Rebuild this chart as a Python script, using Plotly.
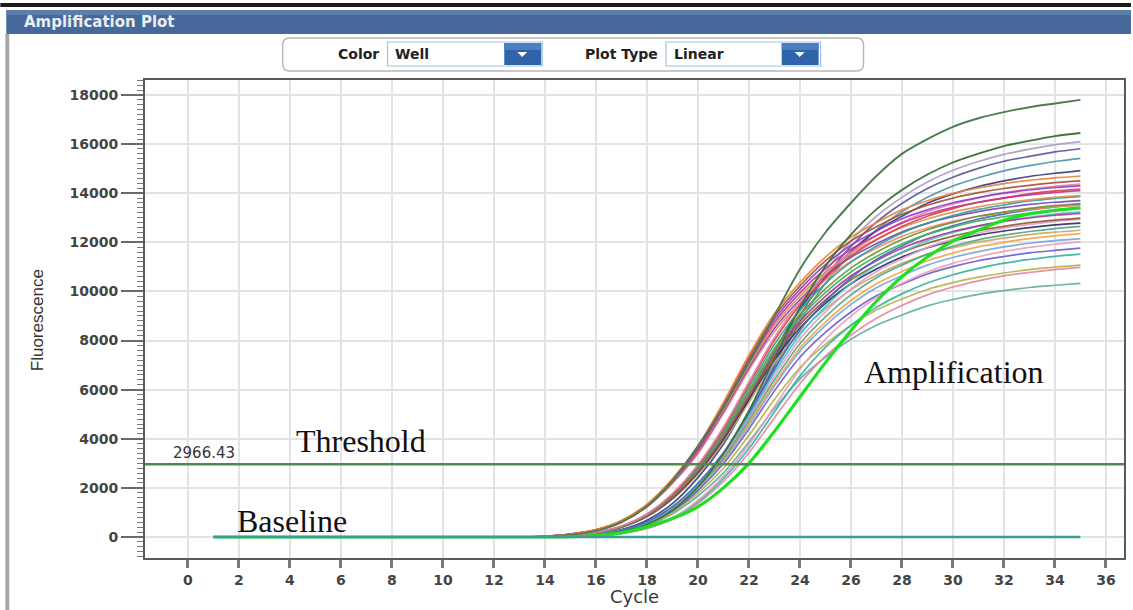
import plotly.graph_objects as go

# ---- data -----------------------------------------------------------------
cycles = list(range(1, 36))
flat_start = [0] * 13          # cycles 1-13: signal still on the baseline

# fluorescence for cycles 14..35, one list per well
well_a1 = [20, 80, 250, 600, 1250, 2300, 3700, 5300, 7100, 9000, 10900, 12400, 13600, 14700, 15600, 16200, 16700, 17050, 17300, 17500, 17650, 17800]
well_a2 = [0, 20, 70, 220, 520, 1090, 2040, 3390, 5140, 7260, 9350, 11020, 12310, 13340, 14130, 14760, 15250, 15610, 15920, 16130, 16320, 16450]
well_a3 = [0, 20, 70, 210, 510, 1060, 2000, 3320, 5040, 7110, 9160, 10790, 12050, 13060, 13830, 14450, 14930, 15290, 15580, 15790, 15970, 16100]
well_a4 = [0, 20, 60, 210, 500, 1040, 1960, 3260, 4940, 6980, 8990, 10590, 11830, 12820, 13580, 14190, 14650, 15010, 15300, 15500, 15680, 15810]
well_a5 = [0, 20, 60, 200, 490, 1020, 1910, 3180, 4820, 6810, 8760, 10330, 11530, 12500, 13240, 13830, 14290, 14630, 14910, 15120, 15290, 15420]
well_a6 = [0, 30, 120, 300, 680, 1360, 2420, 3780, 5590, 7550, 9290, 10570, 11630, 12460, 13060, 13590, 13970, 14270, 14500, 14680, 14810, 14920]
well_a7 = [30, 120, 300, 670, 1330, 2370, 3700, 5480, 7400, 9100, 10360, 11400, 12210, 12800, 13320, 13690, 13990, 14210, 14390, 14520, 14620, 14700]
well_a8 = [30, 120, 290, 660, 1310, 2340, 3650, 5400, 7300, 8980, 10220, 11240, 12050, 12630, 13140, 13510, 13800, 14020, 14190, 14320, 14430, 14500]
well_a9 = [30, 120, 290, 650, 1300, 2300, 3600, 5330, 7200, 8860, 10080, 11090, 11880, 12460, 12960, 13320, 13610, 13820, 14000, 14130, 14230, 14300]
well_a10 = [30, 110, 280, 640, 1280, 2270, 3550, 5250, 7100, 8730, 9940, 10930, 11720, 12280, 12780, 13140, 13420, 13630, 13800, 13930, 14030, 14100]
well_a11 = [10, 60, 190, 450, 940, 1770, 2940, 4470, 6310, 8120, 9570, 10690, 11590, 12270, 12820, 13240, 13560, 13820, 14010, 14170, 14280, 14370]
well_a12 = [10, 60, 190, 440, 930, 1740, 2900, 4400, 6220, 8010, 9440, 10540, 11430, 12100, 12640, 13060, 13370, 13630, 13810, 13970, 14090, 14170]
well_b1 = [30, 110, 280, 630, 1260, 2240, 3500, 5180, 7000, 8610, 9800, 10780, 11550, 12110, 12600, 12950, 13230, 13440, 13610, 13730, 13830, 13900]
well_b2 = [10, 60, 180, 430, 910, 1710, 2840, 4310, 6090, 7840, 9240, 10320, 11190, 11840, 12380, 12780, 13090, 13340, 13520, 13680, 13790, 13870]
well_b3 = [30, 110, 280, 620, 1240, 2210, 3450, 5110, 6900, 8490, 9660, 10630, 11390, 11940, 12420, 12770, 13040, 13250, 13410, 13540, 13630, 13700]
well_b4 = [10, 50, 180, 420, 890, 1670, 2780, 4220, 5960, 7670, 9040, 10100, 10950, 11590, 12110, 12510, 12810, 13060, 13230, 13380, 13490, 13580]
well_b5 = [30, 110, 270, 610, 1220, 2180, 3400, 5030, 6800, 8360, 9520, 10470, 11220, 11760, 12240, 12580, 12850, 13060, 13220, 13340, 13440, 13500]
well_b6 = [10, 50, 180, 420, 880, 1650, 2740, 4160, 5870, 7560, 8910, 9950, 10790, 11420, 11930, 12330, 12620, 12870, 13040, 13190, 13300, 13380]
well_b7 = [0, 30, 110, 270, 620, 1230, 2190, 3430, 5070, 6850, 8430, 9590, 10550, 11300, 11850, 12330, 12670, 12950, 13150, 13320, 13440, 13540]
well_b8 = [10, 50, 170, 410, 860, 1620, 2700, 4100, 5790, 7450, 8780, 9800, 10630, 11250, 11760, 12140, 12440, 12670, 12850, 12990, 13100, 13180]
well_b9 = [0, 30, 110, 270, 600, 1210, 2140, 3350, 4960, 6700, 8240, 9380, 10320, 11060, 11590, 12060, 12400, 12660, 12860, 13020, 13150, 13240]
well_b10 = [10, 50, 170, 410, 850, 1600, 2660, 4040, 5700, 7340, 8650, 9650, 10470, 11080, 11580, 11960, 12250, 12480, 12650, 12800, 12900, 12980]
well_b11 = [0, 30, 100, 260, 590, 1180, 2100, 3280, 4850, 6550, 8060, 9170, 10090, 10810, 11330, 11790, 12120, 12380, 12580, 12730, 12850, 12940]
well_b12 = [10, 50, 170, 400, 840, 1570, 2620, 3970, 5610, 7220, 8510, 9510, 10310, 10910, 11400, 11780, 12060, 12290, 12460, 12600, 12710, 12780]
well_c1 = [0, 30, 100, 260, 580, 1150, 2050, 3200, 4740, 6400, 7870, 8960, 9860, 10560, 11070, 11520, 11840, 12100, 12290, 12440, 12560, 12650]
well_c2 = [10, 50, 160, 390, 820, 1540, 2560, 3880, 5480, 7060, 8320, 9290, 10070, 10660, 11140, 11500, 11780, 12010, 12170, 12310, 12410, 12490]
well_c3 = [0, 30, 100, 250, 560, 1130, 2000, 3130, 4630, 6250, 7690, 8750, 9630, 10310, 10810, 11250, 11560, 11810, 12000, 12150, 12260, 12350]
well_c4 = [0, 20, 100, 250, 550, 1110, 1970, 3080, 4550, 6150, 7570, 8610, 9470, 10150, 10640, 11070, 11380, 11620, 11810, 11960, 12070, 12150]
well_c5 = [0, 10, 50, 160, 380, 790, 1490, 2480, 3760, 5310, 6830, 8050, 8990, 9750, 10320, 10790, 11140, 11410, 11630, 11790, 11920, 12020]
well_c6 = [0, 20, 100, 240, 540, 1070, 1900, 2980, 4400, 5950, 7320, 8330, 9160, 9820, 10290, 10710, 11010, 11250, 11420, 11570, 11670, 11760]
well_c7 = [0, 10, 50, 150, 360, 760, 1430, 2380, 3600, 5090, 6550, 7720, 8620, 9350, 9900, 10340, 10680, 10940, 11150, 11300, 11430, 11520]
well_c8 = [0, 20, 90, 220, 500, 1010, 1790, 2800, 4140, 5600, 6890, 7840, 8620, 9240, 9690, 10080, 10360, 10580, 10750, 10890, 10990, 11070]
well_c9 = [0, 10, 40, 140, 350, 720, 1360, 2260, 3430, 4850, 6240, 7360, 8220, 8910, 9430, 9860, 10180, 10430, 10630, 10770, 10890, 10980]
well_c10 = [0, 20, 80, 210, 470, 940, 1670, 2610, 3870, 5230, 6430, 7320, 8050, 8620, 9040, 9410, 9670, 9880, 10030, 10160, 10250, 10330]
well_c11 = [0, 10, 60, 180, 420, 750, 1230, 2000, 3000, 4300, 5700, 7100, 8400, 9600, 10600, 11400, 12050, 12500, 12900, 13150, 13300, 13400]
ntc_well = [0] * 35            # no-template control: flat baseline, cycles 1-35

threshold = 2966.43

x_tick_vals = list(range(0, 37, 2))
y_tick_vals = list(range(0, 18001, 2000))

# ---- styling --------------------------------------------------------------
bundle = [
    ("A3", well_a3, "#a99cc9"), ("A4", well_a4, "#55559c"), ("A5", well_a5, "#4b93ab"),
    ("A6", well_a6, "#3b3b7a"), ("C10", well_c10, "#62aaa2"), ("C9", well_c9, "#e584a4"),
    ("C8", well_c8, "#b3b342"), ("C7", well_c7, "#33b2a2"), ("C6", well_c6, "#6b5bd0"),
    ("C5", well_c5, "#ea9dba"), ("C4", well_c4, "#75a4e2"), ("C3", well_c3, "#f2a545"),
    ("C2", well_c2, "#caa464"), ("C1", well_c1, "#52a483"), ("B12", well_b12, "#2b2b62"),
    ("B11", well_b11, "#e39bc6"), ("B10", well_b10, "#8d5c2e"), ("B9", well_b9, "#45c4c4"),
    ("B8", well_b8, "#b23594"), ("B7", well_b7, "#4563c4"), ("B6", well_b6, "#3db356"),
    ("B5", well_b5, "#f28a74"), ("B4", well_b4, "#6f9030"), ("B3", well_b3, "#7a42c0"),
    ("B2", well_b2, "#2fa090"), ("B1", well_b1, "#dc9150"), ("A12", well_a12, "#d5453f"),
    ("A11", well_a11, "#ec7fa6"), ("A10", well_a10, "#c9308f"), ("A9", well_a9, "#8b3fcf"),
    ("A8", well_a8, "#a4522e"), ("A7", well_a7, "#e8843c"),
]

fig = go.Figure()

for name, vals, color in bundle:
    fig.add_trace(go.Scatter(
        x=cycles, y=flat_start + vals, name=name, mode="lines",
        line=dict(color=color, width=1.7, shape="spline", smoothing=0.8),
        opacity=0.9, showlegend=False,
    ))

for name, vals, color, width in [("A2", well_a2, "#3f7440", 1.8),
                                  ("A1", well_a1, "#4b7d4f", 1.9),
                                  ("C11", well_c11, "#1fe01f", 3.2)]:
    fig.add_trace(go.Scatter(
        x=cycles, y=flat_start + vals, name=name, mode="lines",
        line=dict(color=color, width=width, shape="spline", smoothing=0.8),
        showlegend=False,
    ))

fig.add_trace(go.Scatter(
    x=cycles, y=ntc_well, name="NTC", mode="lines",
    line=dict(color="#3a9e96", width=2.4), showlegend=False,
))

# ---- page geometry helpers (pixel -> paper) ---------------------------------
W_PX, H_PX = 1133, 610
L, R, T, B = 145, 1126, 80, 558


def px(x):
    return (x - L) / (R - L)


def py(y):
    return (B - y) / (B - T)


def rect(x0, y0, x1, y1, fill, line_color=None, line_width=0, layer="above"):
    return dict(type="rect", xref="paper", yref="paper",
                x0=px(x0), x1=px(x1), y0=py(y1), y1=py(y0),
                fillcolor=fill, layer=layer,
                line=dict(color=line_color or fill, width=line_width))


def rounded(x0, y0, x1, y1, r):
    pts = [
        f"M {px(x0 + r)},{py(y0)}",
        f"L {px(x1 - r)},{py(y0)}",
        f"Q {px(x1)},{py(y0)} {px(x1)},{py(y0 + r)}",
        f"L {px(x1)},{py(y1 - r)}",
        f"Q {px(x1)},{py(y1)} {px(x1 - r)},{py(y1)}",
        f"L {px(x0 + r)},{py(y1)}",
        f"Q {px(x0)},{py(y1)} {px(x0)},{py(y1 - r)}",
        f"L {px(x0)},{py(y0 + r)}",
        f"Q {px(x0)},{py(y0)} {px(x0 + r)},{py(y0)} Z",
    ]
    return " ".join(pts)


def triangle(cx, cy):
    return (f"M {px(cx - 5)},{py(cy - 2)} L {px(cx + 5)},{py(cy - 2)} "
            f"L {px(cx)},{py(cy + 3)} Z")


shapes = [
    rect(0, 3, 1133, 7, "#1c1c1c"),
    rect(6, 10, 1133, 34, "#46689a"),
    rect(6, 10, 1133, 15, "#5d7ea9"),
    rect(5, 34, 9, 610, "#a8a8a8"),
    dict(type="path", xref="paper", yref="paper", path=rounded(283, 38, 865, 71, 7),
         fillcolor="white", line=dict(color="#b8b8b8", width=1.5)),
    rect(388, 42, 543, 66, "white", "#9fc3da", 1.2),
    rect(505, 43, 542, 65, "#2f64ab"),
    rect(505, 43, 542, 50, "#4a80c2"),
    dict(type="path", xref="paper", yref="paper", path=triangle(523, 54),
         fillcolor="white", line=dict(color="white", width=0)),
    rect(667, 42, 822, 66, "white", "#9fc3da", 1.2),
    rect(783, 43, 820, 65, "#2f64ab"),
    rect(783, 43, 820, 50, "#4a80c2"),
    dict(type="path", xref="paper", yref="paper", path=triangle(801, 54),
         fillcolor="white", line=dict(color="white", width=0)),
    # threshold line across the whole plot
    dict(type="line", xref="paper", yref="y", x0=0, x1=1, y0=threshold, y1=threshold,
         line=dict(color="#4e8a4e", width=2.5), layer="above"),
]

ui_font = "DejaVu Sans"
serif = "Liberation Serif, Times New Roman, serif"

annotations = [
    dict(text="Amplification Plot", x=px(22), y=py(22), xanchor="left", yanchor="middle",
         font=dict(family=ui_font, size=15, color="#e9eef4", weight="bold")),
    dict(text="Color", x=px(381), y=py(54), xanchor="right", yanchor="middle",
         font=dict(family=ui_font, size=14, color="#222222", weight="bold")),
    dict(text="Well", x=px(394), y=py(54), xanchor="left", yanchor="middle",
         font=dict(family=ui_font, size=14, color="#222222", weight="bold")),
    dict(text="Plot Type", x=px(661), y=py(54), xanchor="right", yanchor="middle",
         font=dict(family=ui_font, size=14, color="#222222", weight="bold")),
    dict(text="Linear", x=px(673), y=py(54), xanchor="left", yanchor="middle",
         font=dict(family=ui_font, size=14, color="#222222", weight="bold")),
    dict(text="Fluorescence", x=px(37), y=py(320), xanchor="center", yanchor="middle",
         textangle=-90, font=dict(family="Liberation Sans", size=17, color="#333333")),
    dict(text="Cycle", x=px(635), y=py(596), xanchor="center", yanchor="middle",
         font=dict(family=ui_font, size=18, color="#3a3a3a")),
    dict(text=f"{threshold:.2f}", x=px(204), y=py(453), xanchor="center", yanchor="middle",
         font=dict(family=ui_font, size=15, color="#333333")),
    dict(text="Threshold", x=px(361), y=py(441), xanchor="center", yanchor="middle",
         font=dict(family=serif, size=32, color="#111111")),
    dict(text="Baseline", x=px(292), y=py(521), xanchor="center", yanchor="middle",
         font=dict(family=serif, size=32, color="#111111")),
    dict(text="Amplification", x=px(956), y=py(372), xanchor="center", yanchor="middle",
         font=dict(family=serif, size=32, color="#111111")),
]
for a in annotations:
    a.update(xref="paper", yref="paper", showarrow=False)

tick_font = dict(family=ui_font, size=14, color="#444444", weight="bold")

fig.update_layout(
    width=W_PX, height=H_PX,
    margin=dict(l=L, r=W_PX - R, t=T, b=H_PX - B, pad=0),
    paper_bgcolor="white", plot_bgcolor="white",
    shapes=shapes, annotations=annotations,
    xaxis=dict(
        range=[-1.683, 36.71], tickmode="array", tickvals=x_tick_vals,
        ticks="outside", ticklen=8, tickwidth=2.5, tickcolor="#7a7a7a",
        tickfont=tick_font, showgrid=True, gridcolor="#e3e3e3", gridwidth=2,
        zeroline=False, showline=True, linecolor="#5a5a5a", linewidth=2, mirror=True,
    ),
    yaxis=dict(
        range=[-855, 18608], tickmode="array", tickvals=y_tick_vals, tickformat="d",
        ticks="outside", ticklen=22, tickwidth=1.5, tickcolor="#6a6a6a",
        tickfont=tick_font, showgrid=True, gridcolor="#e3e3e3", gridwidth=2,
        zeroline=False, showline=True, linecolor="#5a5a5a", linewidth=2, mirror=True,
        minor=dict(dtick=200, tick0=0, ticks="outside", ticklen=6, tickwidth=1,
                   tickcolor="#7a7a7a", showgrid=False),
    ),
)

fig.write_html("out.html", config={"displayModeBar": False})
